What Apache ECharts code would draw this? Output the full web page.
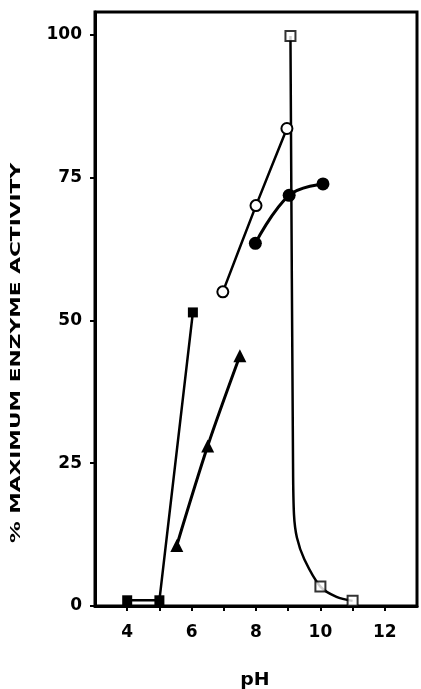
<!DOCTYPE html>
<html>
<head>
<meta charset="utf-8">
<script src="https://cdn.jsdelivr.net/npm/echarts@6/dist/echarts.min.js"></script>
<style>
html,body{margin:0;padding:0;background:#fff;}
#chart{width:421px;height:689px;}
</style>
</head>
<body>
<div id="chart"></div>
<script>
// ---- data ----
const xTicks = [4, 5, 6, 7, 8, 9, 10, 11, 12];
const xTickLabels = [4, 6, 8, 10, 12];
const yTicks = [0, 25, 50, 75, 100];
const yTickLabels = [0, 25, 50, 75, 100];
const xTitle = 'pH';
const yTitle = '% MAXIMUM ENZYME ACTIVITY';

// filled squares
const filledSquares = [[4, 1], [5, 1], [6.04, 51.4]];
// triangles
const triangles = [[5.54, 10.6], [6.5, 28], [7.5, 43.8]];
// open circles
const openCircles = [[6.97, 55], [8.0, 70.1], [8.96, 83.6]];
// filled circles
const filledCircles = [[7.98, 63.5], [9.03, 71.9], [10.08, 73.9]];
// open squares (markers)
const openSquares = [[9.07, 99.8], [10.0, 3.4], [11.0, 0.9]];
// open-square fitted curve
const openSquareCurve = [[9.07, 99.8], [9.15, 25], [9.18, 16], [9.27, 12], [9.5, 8.2], [10.0, 3.4], [10.5, 1.6], [11.0, 0.9]];

const chart = echarts.init(document.getElementById('chart'), null, {renderer: 'canvas'});
const black = '#000';
const tickFont = {fontFamily: '"DejaVu Sans", sans-serif', fontWeight: 'bold', fontSize: 17, color: black};

chart.setOption({
  animation: false,
  backgroundColor: '#fff',
  grid: {left: 95, right: 4, top: 12, bottom: 83, show: true, borderColor: black, borderWidth: 3, containLabel: false},
  xAxis: {
    type: 'value', min: 3, max: 13, interval: 1,
    axisLine: {show: true, lineStyle: {color: black, width: 3}},
    axisTick: {show: true, inside: false, length: 5, lineStyle: {color: black, width: 2}, customValues: xTicks},
    axisLabel: Object.assign({margin: 18, customValues: xTickLabels, formatter: v => String(v)}, tickFont),
    splitLine: {show: false}
  },
  yAxis: {
    type: 'value', min: 0, max: 104, interval: 25,
    axisLine: {show: true, lineStyle: {color: black, width: 3}},
    axisTick: {show: true, inside: false, length: 5, lineStyle: {color: black, width: 2}, customValues: yTicks},
    axisLabel: Object.assign({margin: 13, customValues: yTickLabels, formatter: v => String(v)}, tickFont),
    splitLine: {show: false}
  },
  graphic: [
    {type: 'text', x: 16, y: 353, rotation: Math.PI / 2, scaleX: 1.55, scaleY: 1,
     style: {text: yTitle, font: 'bold 14px "DejaVu Sans", sans-serif', fill: black, textAlign: 'center', textVerticalAlign: 'middle'}},
    {type: 'text', x: 255, y: 680, scaleX: 1.05,
     style: {text: xTitle, font: 'bold 18px "DejaVu Sans", sans-serif', fill: black, textAlign: 'center', textVerticalAlign: 'middle'}}
  ],
  series: [
    {type: 'line', data: openSquareCurve, smooth: 0.3, symbol: 'none',
     lineStyle: {color: black, width: 2.5}, z: 2},
    {type: 'scatter', data: openSquares, symbol: 'rect', symbolSize: 10,
     itemStyle: {color: '#fff', borderColor: black, borderWidth: 2}, z: 5},
    {type: 'line', data: filledSquares, smooth: false, symbol: 'rect', symbolSize: 10,
     lineStyle: {color: black, width: 2.5}, itemStyle: {color: black}, z: 4},
    {type: 'line', data: triangles, smooth: 0.3, symbol: 'triangle', symbolSize: 13,
     lineStyle: {color: black, width: 3}, itemStyle: {color: black}, z: 4},
    {type: 'line', data: openCircles, smooth: 0.2, symbol: 'circle', symbolSize: 11,
     lineStyle: {color: black, width: 2.5}, itemStyle: {color: '#fff', borderColor: black, borderWidth: 2}, z: 4},
    {type: 'line', data: filledCircles, smooth: 0.4, symbol: 'circle', symbolSize: 13,
     lineStyle: {color: black, width: 3}, itemStyle: {color: black}, z: 4}
  ]
});
</script>
</body>
</html>
